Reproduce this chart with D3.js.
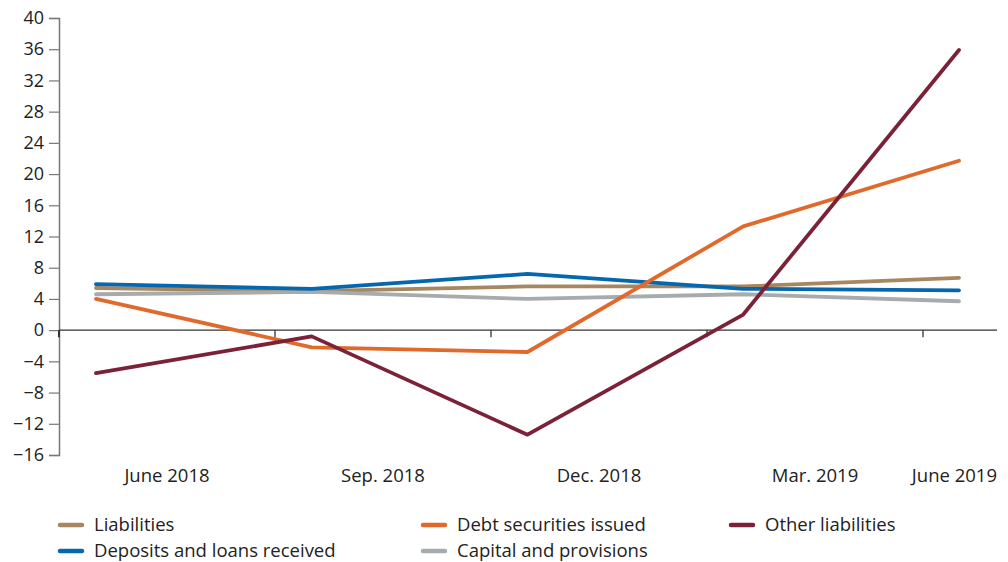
<!DOCTYPE html>
<html><head><meta charset="utf-8">
<script src="https://cdn.jsdelivr.net/npm/d3@7/dist/d3.min.js"></script>
<style>body{margin:0;background:#fff;} text{font-family:"Open Sans",sans-serif;fill:#222;}</style>
</head><body><svg id="c" width="1008" height="562"></svg>
<script>
const categories = ["June 2018","Sep. 2018","Dec. 2018","Mar. 2019","June 2019"];
const liabilities = [5.4, 5.0, 5.6, 5.6, 6.7];
const debtSecurities = [4.0, -2.2, -2.8, 13.3, 21.7];
const otherLiabilities = [-5.5, -0.8, -13.4, 2.0, 35.9];
const deposits = [5.9, 5.3, 7.2, 5.3, 5.1];
const capital = [4.6, 4.9, 4.0, 4.6, 3.7];
const yTicks = [-16,-12,-8,-4,0,4,8,12,16,20,24,28,32,36,40];

const series = [
  {name:"Liabilities", values:liabilities, color:"#a88760"},
  {name:"Debt securities issued", values:debtSecurities, color:"#e0692c"},
  {name:"Other liabilities", values:otherLiabilities, color:"#7b2238"},
  {name:"Deposits and loans received", values:deposits, color:"#0568ae"},
  {name:"Capital and provisions", values:capital, color:"#a6abae"}
];
const drawOrder = [0,4,3,1,2];

const svg = d3.select("#c");
const y = d3.scaleLinear().domain([-16,40]).range([455,18]);
const band = d3.scaleBand().domain(categories).range([59,1139]);
const x = d3.scalePoint().domain(categories).range([96,959]);
const axisEnd = 997;

// y axis
const ya = svg.append("g").attr("transform","translate(59,0)")
  .call(d3.axisLeft(y).tickValues(yTicks).tickSize(10).tickPadding(5).tickFormat(d3.format("d")));
ya.select(".domain").attr("stroke","#777").attr("stroke-width",1.5);
ya.selectAll(".tick line").attr("stroke","#777").attr("stroke-width",1.2);
ya.selectAll("text").style("font-size","18px").attr("fill","#222").style("font-family","'Open Sans',sans-serif");

// x axis line at zero
svg.append("line").attr("x1",59).attr("x2",axisEnd).attr("y1",y(0)).attr("y2",y(0))
  .attr("stroke","#333").attr("stroke-width",1.3);
categories.forEach((c,i)=>{
  const bx = band(c);
  svg.append("line").attr("x1",bx).attr("x2",bx).attr("y1",y(0)).attr("y2",y(0)+7)
    .attr("stroke","#333").attr("stroke-width",i===0?2:1.3);
});
categories.forEach((c,i)=>{
  let cx = band(c)+band.bandwidth()/2;
  const t = svg.append("text").attr("y",482).style("font-size","18.5px").text(c);
  if(i===categories.length-1){ t.attr("x",axisEnd).attr("text-anchor","end"); }
  else t.attr("x",cx).attr("text-anchor","middle");
});

// lines
const line = d3.line().x((d,i)=>x(categories[i])).y(d=>y(d));
drawOrder.forEach(k=>{
  const s = series[k];
  svg.append("path").datum(s.values).attr("d",line).attr("fill","none")
    .attr("stroke",s.color).attr("stroke-width",3.8).attr("stroke-linejoin","round").attr("stroke-linecap","round");
});

// legend
const legPos = [[58,525],[421,525],[729,525],[58,551],[421,551]];
series.forEach((s,i)=>{
  const [lx,ly] = legPos[i];
  svg.append("line").attr("x1",lx+2).attr("x2",lx+24).attr("y1",ly).attr("y2",ly)
    .attr("stroke",s.color).attr("stroke-width",4.5).attr("stroke-linecap","round");
  svg.append("text").attr("x",lx+36).attr("y",ly+6).style("font-size","18.5px").text(s.name);
});
</script></body></html>
